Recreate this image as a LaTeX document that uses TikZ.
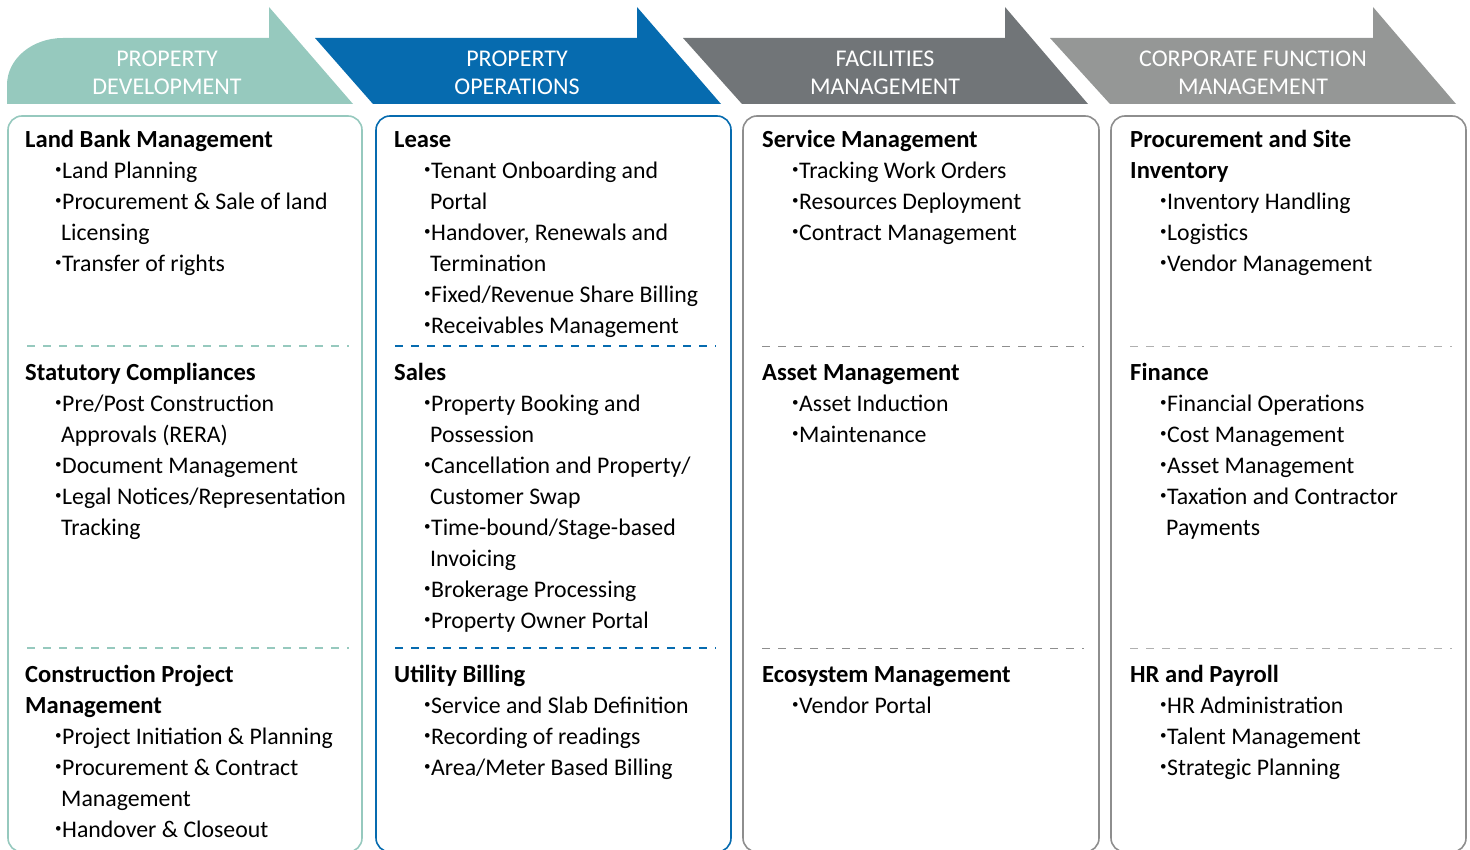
\documentclass[tikz,border=0pt]{standalone}
\usepackage{fontspec}
\setmainfont{Carlito}
\definecolor{tealc}{HTML}{96C9BE}
\definecolor{bluec}{HTML}{066BAF}
\definecolor{dgray}{HTML}{717578}
\definecolor{lgray}{HTML}{959796}
\definecolor{bgray}{HTML}{8E8E8E}
\newcommand\bl{\makebox[7pt][l]{\raisebox{0.2em}{\scalebox{0.55}{\textbullet}}}}
\newcommand\ind{\hspace*{30pt}}
\newcommand\cnt{\hspace*{36pt}}
\newcommand\hd[1]{{\fontsize{24.6}{31}\selectfont\bfseries #1}}
\begin{document}
\begin{tikzpicture}[x=1pt,y=-1pt,
  hdr/.style={align=center,text=white,font=\fontsize{24}{28}\selectfont,inner sep=0},
  sec/.style={anchor=north west,inner sep=0,align=left,font=\fontsize{23.8}{31}\selectfont},
  colbox/.style={line width=1.6pt,rounded corners=14pt},
  sepline/.style={dashed,dash pattern=on 8pt off 8pt,line width=1.3pt}]
\useasboundingbox (0,0) rectangle (1470,850);
% headers
\fill[tealc] (7,104) -- (7,85) .. controls (7,59) and (32,38) .. (63,38) -- (269,38) -- (269,7) -- (353,104) -- cycle;
\fill[bluec] (315,38) -- (637,38) -- (637,7) -- (721,104) -- (373,104) -- cycle;
\fill[dgray] (683,38) -- (1005,38) -- (1005,7) -- (1088,104) -- (742,104) -- cycle;
\fill[lgray] (1050,38) -- (1373,38) -- (1373,7) -- (1456,104) -- (1110,104) -- cycle;
\node[hdr] (h1) at (167,73) {PROPERTY\\DEVELOPMENT};
\node[hdr] (h2) at (517,73) {PROPERTY\\OPERATIONS};
\node[hdr] (h3) at (885,73) {FACILITIES\\MANAGEMENT};
\node[hdr] (h4) at (1253,73) {CORPORATE FUNCTION\\MANAGEMENT};
% boxes
\draw[colbox,draw=tealc] (8,116) rectangle (362,852);
\draw[colbox,draw=bluec] (376,116) rectangle (731,852);
\draw[colbox,draw=bgray] (743,116) rectangle (1099,852);
\draw[colbox,draw=bgray] (1111,116) rectangle (1466,852);
% separators
\foreach \yy in {346,648}{
  \draw[sepline,draw=tealc] (27,\yy) -- (349,\yy);
  \draw[sepline,draw=bluec] (395,\yy) -- (716,\yy);
  \draw[sepline,draw=bgray,line width=0.8pt] (762,\yy) -- (1084,\yy);
  \draw[sepline,draw=bgray!70,line width=0.8pt] (1130,\yy) -- (1452,\yy);
}
% column 1
\node[sec] (a1) at (25,125.5) {\strut\hd{Land Bank Management}\\
\ind\bl Land Planning\\
\ind\bl Procurement \& Sale of land\\
\cnt Licensing\\
\ind\bl Transfer of rights};
\node[sec] (a2) at (25,358.5) {\strut\hd{Statutory Compliances}\\
\ind\bl Pre/Post Construction\\
\cnt Approvals (RERA)\\
\ind\bl Document Management\\
\ind\bl Legal Notices/Representation\\
\cnt Tracking};
\node[sec] (a3) at (25,660.5) {\strut\hd{Construction Project}\\
\hd{Management}\\
\ind\bl Project Initiation \& Planning\\
\ind\bl Procurement \& Contract\\
\cnt Management\\
\ind\bl Handover \& Closeout};
% column 2
\node[sec] (b1) at (394,125.5) {\strut\hd{Lease}\\
\ind\bl Tenant Onboarding and\\
\cnt Portal\\
\ind\bl Handover, Renewals and\\
\cnt Termination\\
\ind\bl Fixed/Revenue Share Billing\\
\ind\bl Receivables Management};
\node[sec] (b2) at (394,358.5) {\strut\hd{Sales}\\
\ind\bl Property Booking and\\
\cnt Possession\\
\ind\bl Cancellation and Property/\\
\cnt Customer Swap\\
\ind\bl Time-bound/Stage-based\\
\cnt Invoicing\\
\ind\bl Brokerage Processing\\
\ind\bl Property Owner Portal};
\node[sec] (b3) at (394,660.5) {\strut\hd{Utility Billing}\\
\ind\bl Service and Slab Definition\\
\ind\bl Recording of readings\\
\ind\bl Area/Meter Based Billing};
% column 3
\node[sec] (c1) at (762,125.5) {\strut\hd{Service Management}\\
\ind\bl Tracking Work Orders\\
\ind\bl Resources Deployment\\
\ind\bl Contract Management};
\node[sec] (c2) at (762,358.5) {\strut\hd{Asset Management}\\
\ind\bl Asset Induction\\
\ind\bl Maintenance};
\node[sec] (c3) at (762,660.5) {\strut\hd{Ecosystem Management}\\
\ind\bl Vendor Portal};
% column 4
\node[sec] (d1) at (1130,125.5) {\strut\hd{Procurement and Site}\\
\hd{Inventory}\\
\ind\bl Inventory Handling\\
\ind\bl Logistics\\
\ind\bl Vendor Management};
\node[sec] (d2) at (1130,358.5) {\strut\hd{Finance}\\
\ind\bl Financial Operations\\
\ind\bl Cost Management\\
\ind\bl Asset Management\\
\ind\bl Taxation and Contractor\\
\cnt Payments};
\node[sec] (d3) at (1130,660.5) {\strut\hd{HR and Payroll}\\
\ind\bl HR Administration\\
\ind\bl Talent Management\\
\ind\bl Strategic Planning};
\end{tikzpicture}
\end{document}
